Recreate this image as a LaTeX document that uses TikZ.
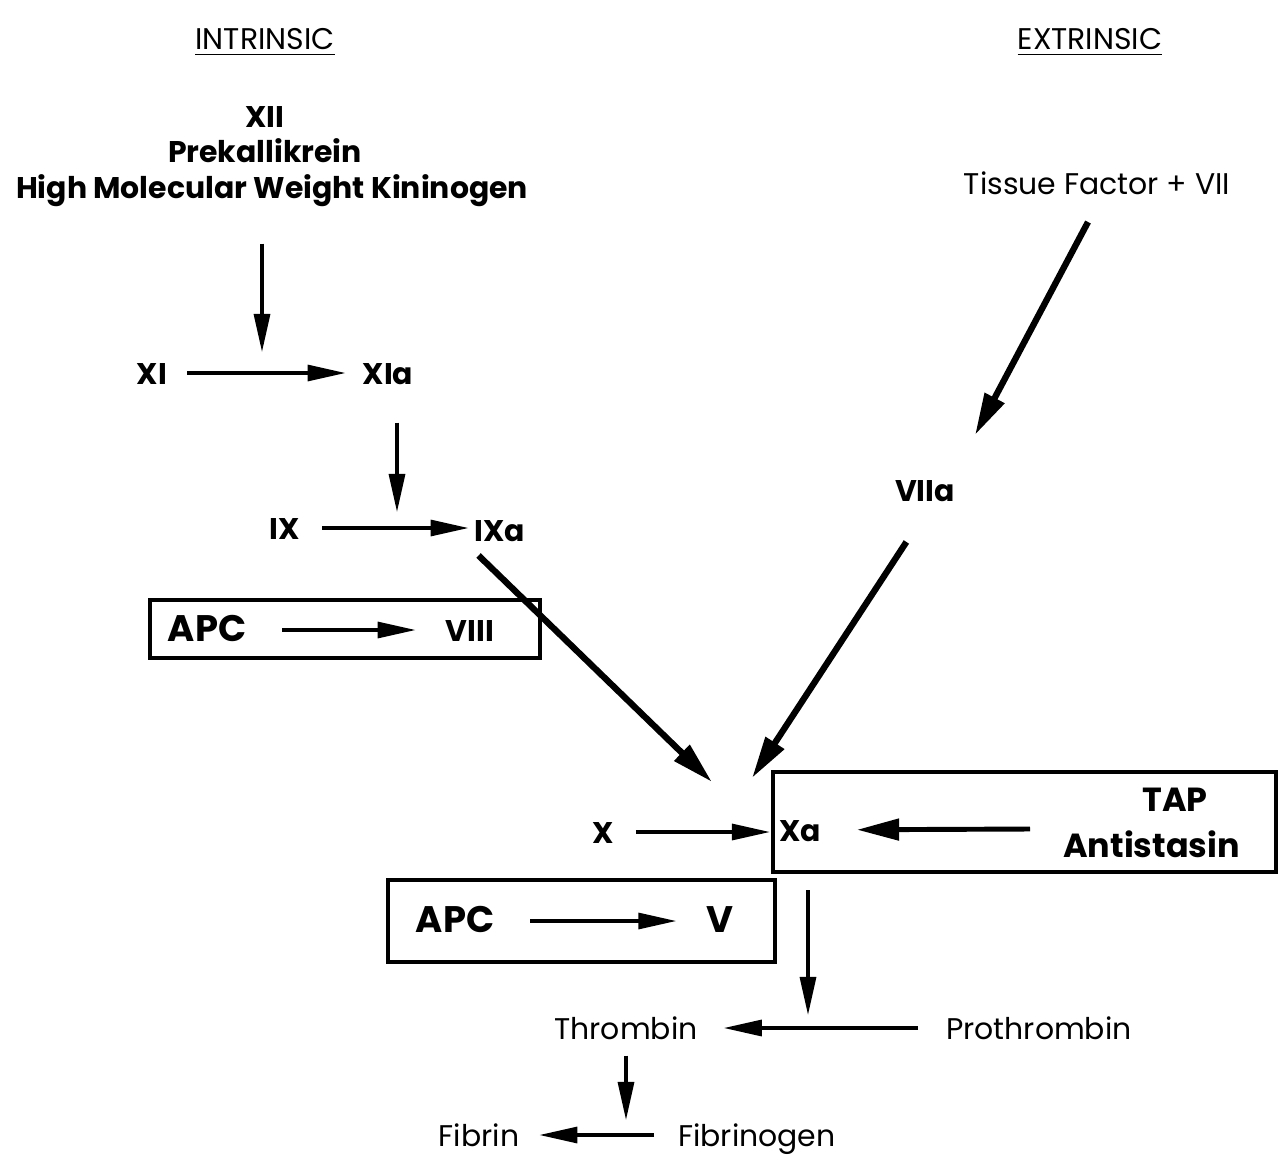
\documentclass[tikz,border=0pt]{standalone}
\usepackage{fontspec}
\setmainfont{Poppins}
\usetikzlibrary{arrows.meta}
\tikzset{
  lbl/.style={font=\bfseries\fontsize{8.5}{10}\selectfont, inner sep=1pt, text height=1.6ex, text depth=0.4ex},
  med/.style={font=\fontsize{8.5}{10}\selectfont, inner sep=1pt, text height=1.6ex, text depth=0.4ex},
  big/.style={font=\bfseries\fontsize{10.5}{12}\selectfont, inner sep=1pt, text height=1.6ex, text depth=0.4ex},
  arr/.style={-{Triangle[length=3.8mm,width=1.6mm]}, line width=0.9pt},
  diag/.style={-{Triangle[length=4.2mm,width=2.1mm]}, line width=1.8pt},
  frame/.style={draw, line width=1.1pt},
}
\begin{document}
\begin{tikzpicture}[x=0.01cm,y=-0.01cm]
\useasboundingbox (0,0) rectangle (1278,1175);
% headings
\node [med] (intr) at (265,38) {\underline{INTRINSIC}};
\node [med] (extr) at (1090,38) {\underline{EXTRINSIC}};

% intrinsic pathway
\node [lbl] (xii) at (265,116) {XII};
\node [lbl] (prek) at (265,151) {Prekallikrein};
\node [lbl] (hmwk) at (272,187) {High Molecular Weight Kininogen};
\node [lbl] (xi) at (152,373) {XI};
\node [lbl] (xia) at (388,373) {XIa};
\node [lbl] (ix) at (285,528) {IX};
\node [lbl] (ixa) at (500,530) {IXa};

% extrinsic pathway
\node [med] (tf) at (1097,183) {Tissue Factor + VII};
\node [lbl] (viia) at (925,490) {VIIa};

% common pathway
\node [lbl] (x) at (603,832) {X};
\node [lbl] (xa) at (800,830) {Xa};
\node [big, font=\bfseries\fontsize{9.5}{11}\selectfont, anchor=east] (tap) at (1212,800) {TAP};
\node [big, font=\bfseries\fontsize{9.5}{11}\selectfont, anchor=east] (anti) at (1244,846) {Antistasin};
\node [med] (thr) at (626,1028) {Thrombin};
\node [med] (pthr) at (1039,1028) {Prothrombin};
\node [med] (fib) at (479,1135) {Fibrin};
\node [med] (fgen) at (757,1135) {Fibrinogen};

% APC boxes
\node [big] (apca) at (207,630) {APC};
\node [lbl] (viii) at (470,630) {VIII};
\node [big] (apcb) at (455,921) {APC};
\node [big] (v) at (720,921) {V};
\draw [frame] (150,600) rectangle (540,658);
\draw [frame] (388,880) rectangle (775,962);
\draw [frame] (773,772) rectangle (1276,872);

% arrows
\coordinate (m1) at (262,352);
\coordinate (m2) at (397,512);
\coordinate (c1) at (712,782);
\coordinate (c2) at (752,778);
\coordinate (t1) at (975,435);
\coordinate (tfout) at (1088,222);
\coordinate (tapout) at (1030,829);
\coordinate (xaout) at (808,890);
\coordinate (m3) at (808,1015);
\coordinate (m4) at (626,1120);

\draw [arr, shorten <=3.3mm] (hmwk.south -| m1) -- (m1);
\draw [arr, shorten <=1.6mm, shorten >=1.3mm] (xi) -- (xia);
\draw [arr, shorten <=2.6mm] (xia.south -| m2) -- (m2);
\draw [arr, shorten <=1.8mm, shorten >=0.2mm] (ix) -- (ix -| ixa.west);
\draw [arr, shorten <=3.2mm, shorten >=2.6mm] (apca) -- (viii);
\draw [arr, shorten <=3.2mm, shorten >=2.6mm] (apcb) -- (v);
\draw [diag] (ixa.south west) ++(8,2) coordinate (ixout) (ixout) -- (c1);
\draw [diag] (tfout) -- (t1);
\draw [diag, shorten <=3.4mm] (viia.south) -- (c2);
\draw [arr, shorten <=1.8mm, shorten >=0.5mm] (x) -- (x -| xa.west);
\draw [diag, line width=1.4pt, shorten >=3.2mm] (tapout) -- (xa);
\draw [arr] (xaout) -- (m3);
\draw [arr, shorten <=2.4mm, shorten >=2.2mm] (pthr) -- (thr);
\draw [arr, shorten <=0.4mm] (thr.south) -- (m4);
\draw [arr, shorten <=2.0mm, shorten >=1.6mm] (fgen) -- (fib);
\end{tikzpicture}
\end{document}
